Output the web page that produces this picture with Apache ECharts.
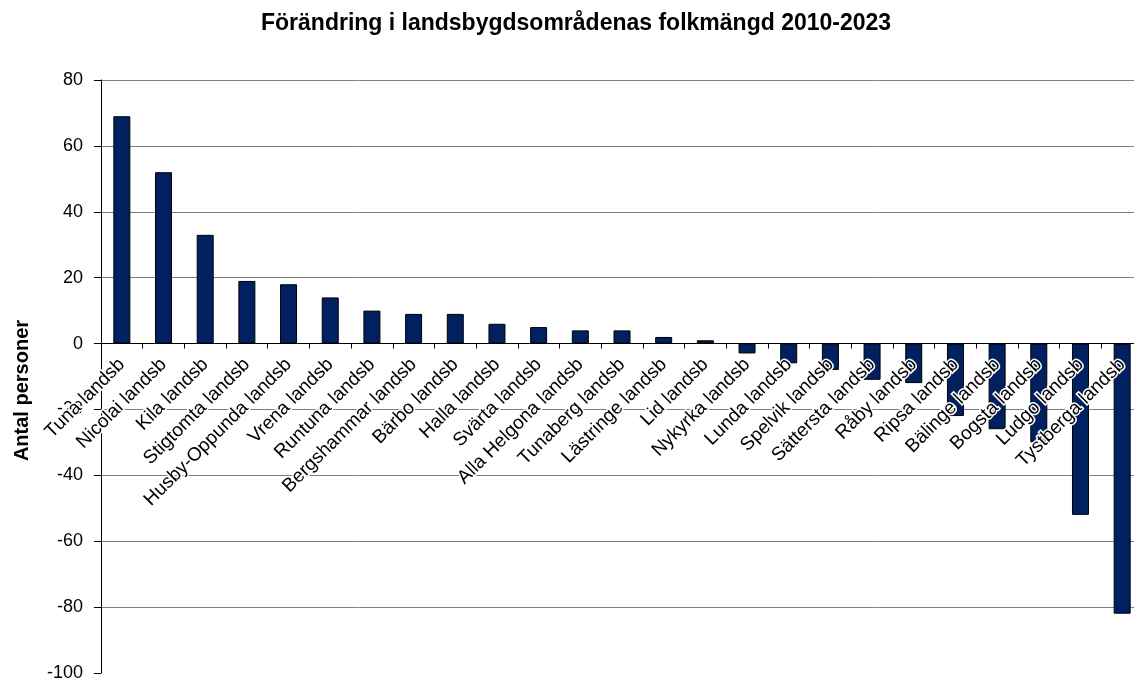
<!DOCTYPE html>
<html>
<head>
<meta charset="utf-8">
<script src="https://cdn.jsdelivr.net/npm/echarts@6/dist/echarts.min.js"></script>
<style>
  html, body { margin: 0; padding: 0; background: #fff; }
  #chart { width: 1134px; height: 680px; }
</style>
</head>
<body>
<div id="chart"></div>
<script>
// områden, sorterade efter förändring
const areas = [
  'Tuna landsb', 'Nicolai landsb', 'Kila landsb', 'Stigtomta landsb', 'Husby-Oppunda landsb',
  'Vrena landsb', 'Runtuna landsb', 'Bergshammar landsb', 'Bärbo landsb', 'Halla landsb',
  'Svärta landsb', 'Alla Helgona landsb', 'Tunaberg landsb', 'Lästringe landsb', 'Lid landsb',
  'Nykyrka landsb', 'Lunda landsb', 'Spelvik landsb', 'Sättersta landsb', 'Råby landsb',
  'Ripsa landsb', 'Bälinge landsb', 'Bogsta landsb', 'Ludgo landsb', 'Tystberga landsb'
]
const change = [69, 52, 33, 19, 18, 14, 10, 9, 9, 6, 5, 4, 4, 2, 1,
  -3, -6, -8, -11, -12, -22, -26, -30, -52, -82]
const yMin = -100
const yMax = 80

const gridTop = 80
const gridBottom = 7
const myEcharts = echarts.init(document.getElementById('chart'))
const font = 'Liberation Sans, Arial, sans-serif'
// x-axeln ligger på nollan, flytta hela axeln (även etiketter) dit
const plotH = 680 - gridTop - gridBottom
const zeroShift = -plotH * (0 - yMin) / (yMax - yMin)

const option = {
  animation: false,
  title: {
    text: 'Förändring i landsbygdsområdenas folkmängd 2010-2023',
    left: 256,
    top: 7,
    textStyle: { fontFamily: font, fontSize: 23, fontWeight: 'bold', color: '#000' }
  },
  grid: { left: 101, right: -9, top: gridTop, bottom: gridBottom, outerBoundsMode: 'none' },
  xAxis: {
    type: 'category',
    data: areas,
    z: 5,
    offset: zeroShift,
    axisLine: { onZero: false, lineStyle: { color: '#000', width: 1 } },
    axisTick: { show: true, length: 5, lineStyle: { color: '#000' } },
    axisLabel: {
      interval: 0,
      rotate: 45,
      margin: 18,
      fontFamily: font,
      fontSize: 19,
      color: '#000',
      textBorderColor: '#fff',
      textBorderWidth: 3
    }
  },
  yAxis: {
    type: 'value',
    min: yMin,
    max: yMax,
    interval: 20,
    name: 'Antal personer',
    nameLocation: 'middle',
    nameGap: 69,
    nameTextStyle: { fontFamily: font, fontSize: 20, fontWeight: 'bold', color: '#000', padding: [0, 28, 0, 0] },
    axisLine: { show: true, lineStyle: { color: '#000' } },
    axisTick: { show: true, length: 7, lineStyle: { color: '#000' } },
    axisLabel: { fontFamily: font, fontSize: 18, color: '#000', margin: 18 },
    splitLine: { show: true, showMinLine: false, lineStyle: { color: '#7f7f7f', width: 1 } }
  },
  series: [{
    type: 'bar',
    data: change,
    barWidth: 17,
    itemStyle: { color: '#002060', borderColor: '#000', borderWidth: 1 }
  }]
}
myEcharts.setOption(option)
</script>
</body>
</html>
